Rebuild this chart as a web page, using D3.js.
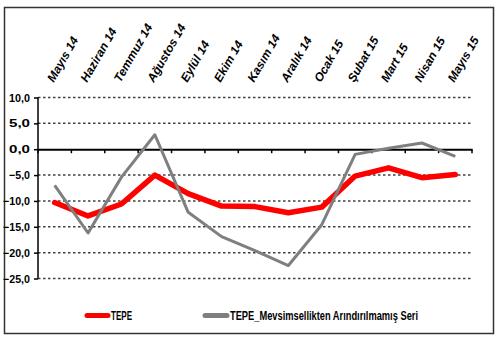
<!DOCTYPE html>
<html><head><meta charset="utf-8">
<script src="https://cdn.jsdelivr.net/npm/d3@7"></script>
<style>body{margin:0;background:#fff}svg{display:block}</style>
</head><body>
<script>
const categories = ["Mayıs 14","Haziran 14","Temmuz 14","Ağustos 14","Eylül 14","Ekim 14","Kasım 14","Aralık 14","Ocak 15","Şubat 15","Mart 15","Nisan 15","Mayıs 15"];
const tepe = [-10.3,-12.9,-10.6,-5.0,-8.6,-11.0,-11.1,-12.3,-11.2,-5.2,-3.6,-5.5,-4.9];
const tepeRaw = [-7.0,-16.2,-5.4,2.8,-12.2,-16.9,-19.6,-22.5,-14.6,-1.0,0.2,1.2,-1.4];
const yTicks = [10,5,0,-5,-10,-15,-20,-25];
const seriesNames = ["TEPE","TEPE_Mevsimsellikten Arındırılmamış Seri"];
const colors = ["#ff0000","#7f7f7f"];

const W=498,H=346;
const svg=d3.select("body").append("svg").attr("width",W).attr("height",H);
svg.append("rect").attr("x",4.5).attr("y",7.5).attr("width",489).attr("height",326)
  .attr("fill","#fff").attr("stroke","#333").attr("stroke-width",1.5);

const x=d3.scaleBand().domain(categories).range([38,472]);
const y=d3.scaleLinear().domain([-25,10]).range([278.5,97.5]);
const font="'Liberation Sans',Arial,sans-serif";

// gridlines
svg.append("g").selectAll("line").data(yTicks.filter(d=>d!==0)).join("line")
  .attr("x1",38).attr("x2",472).attr("y1",d=>y(d)).attr("y2",d=>y(d))
  .attr("stroke","#404040").attr("stroke-width",1.5).attr("stroke-dasharray","2.5,2.5");

// y axis
const ya=svg.append("g").attr("transform","translate(38,0)")
  .call(d3.axisLeft(y).tickValues(yTicks).tickSize(4).tickPadding(4)
  .tickFormat(d=>d3.format(".1f")(d).replace(".",",")));
ya.select(".domain").attr("stroke","#000").attr("stroke-width",1.5).attr("d","M0,97.5V278.5");
ya.selectAll("line").attr("stroke","#000").attr("stroke-width",1.5);
ya.selectAll("text").attr("font-family",font).attr("font-weight","bold").attr("font-size",11)
  .attr("fill","#000").attr("textLength",function(){return this.textContent.length>4?27:21;}).attr("lengthAdjust","spacingAndGlyphs");

// zero axis with category ticks
const xa=svg.append("g").attr("transform",`translate(0,${y(0)})`)
  .call(d3.axisBottom(x).tickSize(0).tickFormat(""));
xa.select(".domain").attr("stroke","#000").attr("stroke-width",2);
svg.append("g").selectAll("line").data(categories.concat(["end"])).join("line")
  .attr("x1",(d,i)=>38+i*x.step()).attr("x2",(d,i)=>38+i*x.step())
  .attr("y1",y(0)).attr("y2",y(0)+4).attr("stroke","#000").attr("stroke-width",1.5);

// category labels
svg.append("g").selectAll("text").data(categories).join("text")
  .attr("transform",d=>`translate(${x(d)+x.bandwidth()/2-1},83) rotate(-60)`)
  .attr("font-family",font).attr("font-style","italic").attr("font-weight","bold")
  .attr("font-size",12).attr("fill","#000").text(d=>d);

const line=d3.line().x((d,i)=>x(categories[i])+x.bandwidth()/2).y(d=>y(d));
svg.append("path").datum(tepe).attr("d",line).attr("fill","none")
  .attr("stroke",colors[0]).attr("stroke-width",5.5).attr("stroke-linejoin","round").attr("stroke-linecap","round");
svg.append("path").datum(tepeRaw).attr("d",line).attr("fill","none")
  .attr("stroke",colors[1]).attr("stroke-width",3).attr("stroke-linejoin","round");

// legend
const lg=[{x1:87,x2:108,tx:111,tl:21},{x1:205,x2:227,tx:230,tl:188}];
lg.forEach((l,i)=>{
  svg.append("line").attr("x1",l.x1).attr("x2",l.x2).attr("y1",315.5).attr("y2",315.5)
    .attr("stroke",colors[i]).attr("stroke-width",5).attr("stroke-linecap","round");
  svg.append("text").attr("x",l.tx).attr("y",320).attr("font-family",font).attr("font-size",12.5)
    .attr("font-weight","bold").attr("fill","#000")
    .attr("textLength",l.tl).attr("lengthAdjust","spacingAndGlyphs").text(seriesNames[i]);
});
</script>
</body></html>
